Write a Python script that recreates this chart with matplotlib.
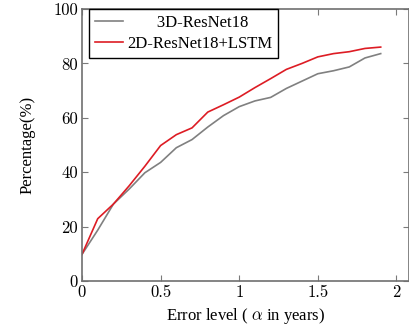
import matplotlib
matplotlib.use("Agg")
import matplotlib.pyplot as plt

plt.rcParams['font.family'] = ['Liberation Serif', 'DejaVu Serif']
plt.rcParams['mathtext.fontset'] = 'cm'

# Error level (years) and cumulative percentage
err = [0, 0.1, 0.2, 0.3, 0.4, 0.5, 0.6, 0.7, 0.8, 0.9, 1.0,
       1.1, 1.2, 1.3, 1.4, 1.5, 1.6, 1.7, 1.8, 1.9]
resnet3d = [9.8, 18.7, 28.3, 33.8, 39.8, 43.6, 49.0, 52.0, 56.6, 60.8, 64.1,
            66.2, 67.5, 70.8, 73.5, 76.2, 77.3, 78.7, 82.0, 83.6]
resnet2d_lstm = [9.8, 22.9, 28.3, 35.0, 42.2, 49.8, 53.8, 56.3, 62.1, 64.8, 67.6,
                 71.1, 74.4, 77.8, 80.0, 82.4, 83.6, 84.3, 85.5, 86.0]
labels = ["       3D-ResNet18", "2D-ResNet18+LSTM"]

xticks = [0, 0.5, 1, 1.5, 2]
xticklabels = ["0", "0.5", "1", "1.5", "2"]
yticks = [0, 20, 40, 60, 80, 100]

fig = plt.figure(figsize=(4.09, 3.28), dpi=100)
ax = fig.add_axes([82 / 409, 1 - 281 / 328, 327 / 409, 272 / 328])

ax.plot(err, resnet3d, color='#808080', lw=1.2, label=labels[0])
ax.plot(err, resnet2d_lstm, color='#dd1c24', lw=1.2, label=labels[1])

ax.set_xlim(0, 2.08)
ax.set_ylim(0, 100)
ax.set_xticks(xticks)
ax.set_xticklabels(xticklabels, fontfamily='cmr10', fontsize=12)
ax.set_yticks(yticks)
ax.set_yticklabels([str(v) for v in yticks], fontfamily='cmr10', fontsize=12)
ax.tick_params(direction='in', length=4.5, width=0.8, color='#7a7a7a',
               top=True, right=True, pad=3)

for s in ax.spines.values():
    s.set_color('#707070')
    s.set_linewidth(1.2)

ax.set_xlabel(r"Error level ( $\alpha$ in years)", fontsize=12, labelpad=4)
ax.set_ylabel("Percentage(%)", fontsize=12, labelpad=13)

leg = ax.legend(loc='upper left', bbox_to_anchor=(0.022, 1.0), borderaxespad=0,
                fontsize=12, fancybox=False, framealpha=1, edgecolor='black',
                handlelength=1.7, handletextpad=0.25, borderpad=0.35,
                labelspacing=0.3)
leg.get_frame().set_linewidth(1.0)

fig.savefig("out.png", dpi=100)
